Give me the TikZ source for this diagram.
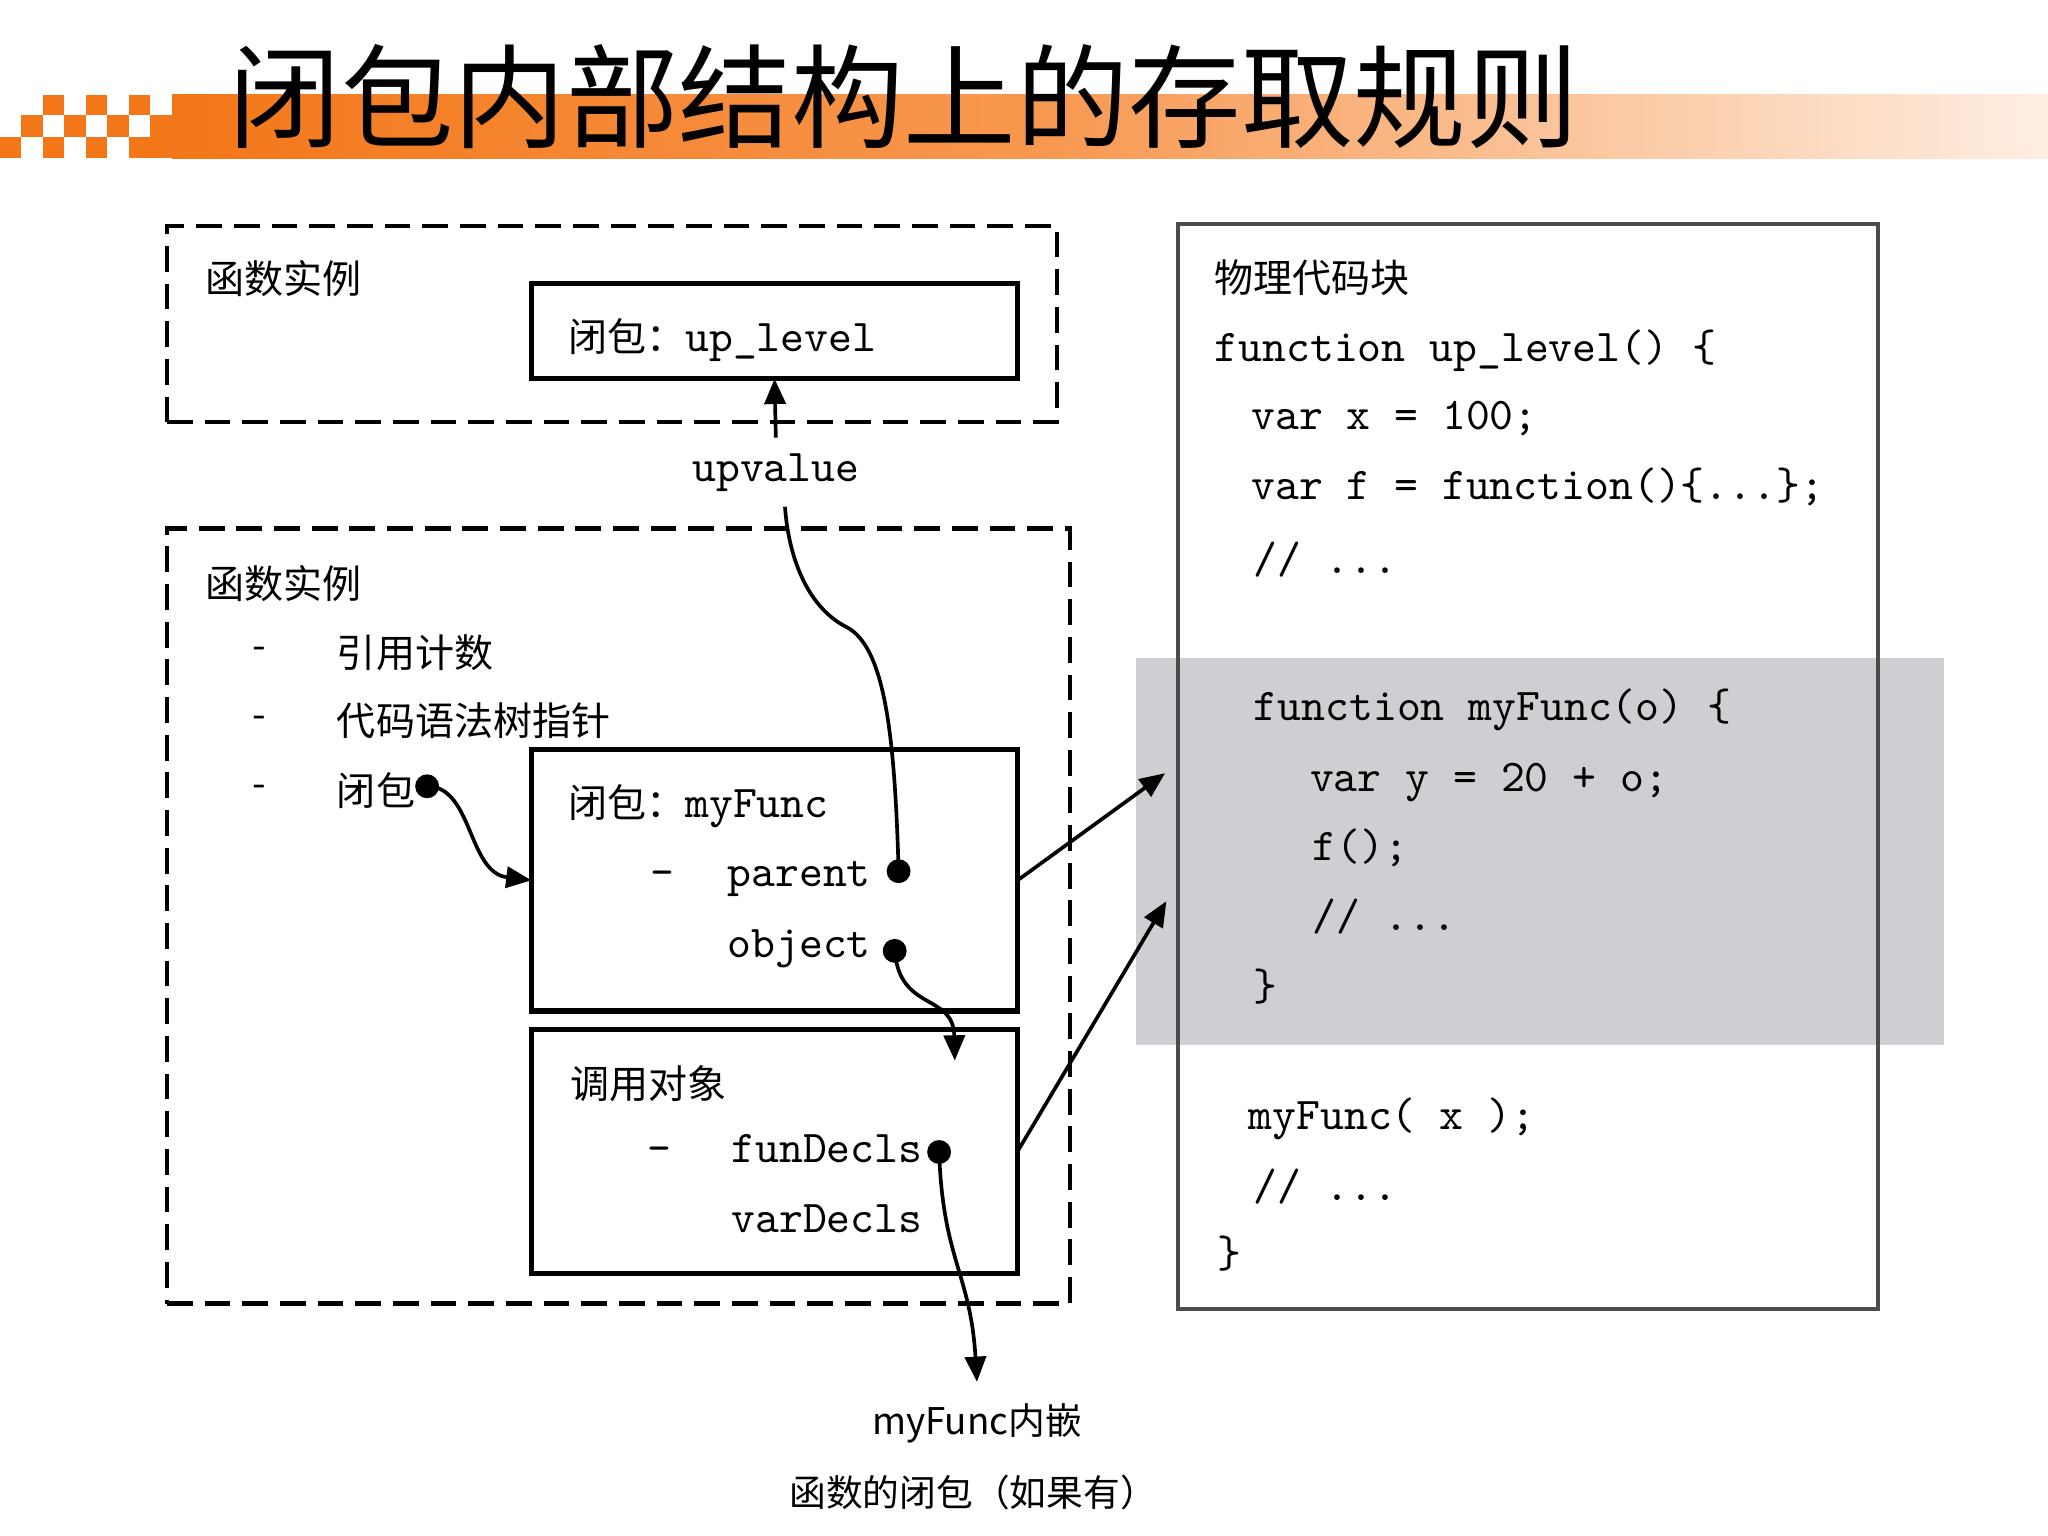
\documentclass[tikz,border=0pt]{standalone}
\usepackage{fontspec}
\newfontfamily\cjk{Noto Sans CJK SC}
\usetikzlibrary{arrows.meta}
\definecolor{bannerA}{RGB}{243,119,24}
\definecolor{bannerB}{RGB}{247,152,80}
\definecolor{bannerC}{RGB}{254,238,226}
\definecolor{codegrey}{RGB}{207,206,210}
\begin{document}
\begin{tikzpicture}[x=0.01cm,y=-0.01cm,
  every node/.style={inner sep=0pt,outer sep=0pt},
  cjktext/.style={font=\cjk\fontsize{8.5}{10}\selectfont,anchor=west},
  smallcjk/.style={font=\cjk\fontsize{8}{10}\selectfont},
  codetext/.style={font=\ttfamily\fontsize{9.9}{11}\selectfont,anchor=west,text height=6.5pt,text depth=1.5pt},
  dashbox/.style={draw,line width=1pt,dash pattern=on 5.6pt off 2.6pt},
  solidbox/.style={draw,line width=1.1pt},
  codebox/.style={draw=black!70,line width=0.9pt},
  dotn/.style={circle,fill=black,minimum size=5.2pt},
  link/.style={line width=0.8pt,-{Triangle[length=5.5pt,width=4.6pt]}},
  plainlink/.style={line width=0.8pt},
  orangecell/.style={fill=bannerA}
]
\useasboundingbox (0,0) rectangle (1568,1176);
\fill[white] (0,0) rectangle (1568,1176);

% ---------- banner ----------
\shade[left color=bannerA,right color=bannerB] (131.7,72.7) rectangle (800,121);
\shade[left color=bannerB,right color=bannerC] (799,72.7) rectangle (1568,121);
\fill[orangecell] (115.2,88) rectangle (131.9,121);
\fill[orangecell] (98.8,105) rectangle (115.4,121);
\foreach \c in {2,4,6} \fill[orangecell] ({\c*16.46},72.7) rectangle ({(\c+1)*16.46},88);
\foreach \c in {1,3,5} \fill[orangecell] ({\c*16.46},88) rectangle ({(\c+1)*16.46},105);
\foreach \c in {0,2,4} \fill[orangecell] ({\c*16.46},105) rectangle ({(\c+1)*16.46},121);
\node (title) at (692,74) {\cjk\fontsize{24.5}{26}\selectfont 闭包内部结构上的存取规则};

% ---------- code background ----------
\fill[codegrey] (870,504) rectangle (1488,800);
\node[codebox,minimum width=5.36cm,minimum height=8.30cm] (codebox) at (1170,587) {};

% ---------- top function instance ----------
\node[dashbox,minimum width=6.81cm,minimum height=1.50cm] (fi1) at (468.5,248) {};
\node[cjktext] (fi1t) at (157,213) {函数实例};
\node[solidbox,minimum width=3.72cm,minimum height=0.73cm] (uplevel) at (593,253.5) {};
\node[anchor=west] (uplevelt) at (435,260) {\cjk\fontsize{8.5}{10}\selectfont 闭包：\ttfamily\fontsize{9.9}{11}\selectfont up\_level};

% ---------- lower function instance ----------
\node[dashbox,minimum width=6.91cm,minimum height=5.93cm] (fi2) at (473.5,701.5) {};
\node[cjktext] (fi2t) at (157,447) {函数实例};
\node[cjktext] (b1) at (193,500) {-};
\node[cjktext] (i1) at (258,500) {引用计数};
\node[cjktext] (b2) at (193,553) {-};
\node[cjktext] (i2) at (258,552) {代码语法树指针};
\node[cjktext] (b3) at (193,606) {-};
\node[cjktext] (i3) at (258,605) {闭包};
\node[dotn] (cdot) at (327,602) {};

\node[solidbox,minimum width=3.72cm,minimum height=2.00cm] (myfunc) at (593,674) {};
\node[anchor=west] (myfunct) at (435,617) {\cjk\fontsize{8.5}{10}\selectfont 闭包：\ttfamily\fontsize{9.9}{11}\selectfont myFunc};
\node[codetext] (pdash) at (498,670) {\textendash};
\node[codetext] (parent) at (557,670) {parent};
\node[dotn] (pdot) at (688,667) {};
\node[codetext] (object) at (557,724) {object};
\node[dotn] (odot) at (685,728) {};

\node[solidbox,minimum width=3.72cm,minimum height=1.87cm] (callobj) at (593,881.5) {};
\node[cjktext] (callobjt) at (437,830) {调用对象};
\node[codetext] (fdash) at (496,881) {\textendash};
\node[codetext] (fundecls) at (560,881) {funDecls};
\node[dotn] (fdot) at (719,882) {};
\node[codetext] (vardecls) at (560,935) {varDecls};

% ---------- labels ----------
\node[codetext,anchor=center] (upv) at (594,360) {upvalue};
\node[smallcjk] (nest1) at (748,1090) {myFunc内嵌};
\node[smallcjk] (nest2) at (745,1143) {函数的闭包（如果有）};

% ---------- code ----------
\node[cjktext] (codet) at (930,213) {物理代码块};
\node[codetext] (l1) at (930,268) {function up\_level() \{};
\node[codetext] (l2) at (958,320) {var x = 100;};
\node[codetext] (l3) at (958,374) {var f = function()\{...\};};
\node[codetext] (l4) at (960,430) {// ...};
\node[codetext] (l5) at (960,543) {function myFunc(o) \{};
\node[codetext] (l6) at (1003,597) {var y = 20 + o;};
\node[codetext] (l7) at (1005,650) {f();};
\node[codetext] (l8) at (1005,704) {// ...};
\node[codetext] (l9) at (960,757) {\}};
\node[codetext] (l10) at (956,856) {myFunc( x );};
\node[codetext] (l11) at (960,910) {// ...};
\node[codetext] (l12) at (932,962) {\}};

% ---------- connectors ----------
\coordinate (objtip) at (731,812);
\coordinate (fundtip) at (748,1058);
\coordinate (codetip1) at (892,592);
\coordinate (codetip2) at (893,690);

\draw[plainlink] (pdot.center) .. controls (685,560) and (677,495) .. (648,480)
   .. controls (620,466) and (604,430) .. ([shift={(7,28)}]upv.center);
\draw[link] ([shift={(0,-25)}]upv.center) -- (uplevel.south);
\draw[link] (cdot.center) .. controls (362,602) and (358,668) .. (myfunc.west);
\draw[link] (odot.center) .. controls (689,775) and (730,760) .. (objtip);
\draw[link] (fdot.center) .. controls (722,965) and (743,975) .. (fundtip);
\draw[link] (myfunc.east) -- (codetip1);
\draw[link] (callobj.east) -- (codetip2);
\end{tikzpicture}
\end{document}
